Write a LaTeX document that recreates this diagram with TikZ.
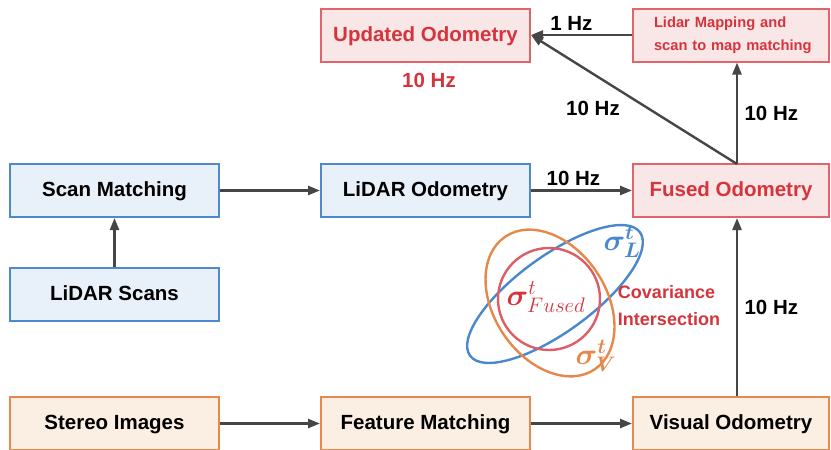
\RequirePackage{fix-cm}
\documentclass[tikz,border=0pt]{standalone}
\usepackage{amsmath,bm}
\usepackage{fontspec}
\setmainfont{Liberation Sans}
\usetikzlibrary{arrows.meta}
\definecolor{bbord}{RGB}{80,136,204}
\definecolor{bfill}{RGB}{232,240,250}
\definecolor{rbord}{RGB}{224,100,106}
\definecolor{rfill}{RGB}{249,230,230}
\definecolor{rtext}{RGB}{214,52,60}
\definecolor{obord}{RGB}{232,136,76}
\definecolor{ofill}{RGB}{251,238,227}
\definecolor{arr}{RGB}{70,70,70}
\definecolor{eblue}{RGB}{74,136,206}
\definecolor{eorange}{RGB}{230,136,74}
\definecolor{ered}{RGB}{222,94,104}
\begin{document}
\begin{tikzpicture}[x=1pt,y=-1pt,
  base/.style={draw,line width=2pt,inner sep=0pt,text height=15pt,text depth=3pt,font=\fontsize{20.5}{24}\selectfont\bfseries},
  bluebox/.style={base,draw=bbord,fill=bfill,minimum width=209pt,minimum height=53pt},
  redbox/.style={base,draw=rbord,fill=rfill,text=rtext,minimum height=53pt},
  orangebox/.style={base,draw=obord,fill=ofill,minimum height=53pt},
  conn/.style={draw=arr,line width=2.4pt,-{Triangle[length=12pt,width=9pt]}},
  hz/.style={font=\fontsize{20.5}{24}\selectfont\bfseries},
  sig/.style={font=\fontsize{30}{32}\selectfont},
]
\useasboundingbox (0,0) rectangle (831,450);
% boxes
\node[redbox,minimum width=209pt] (upd) at (425.5,35) {Updated Odometry};
\node[draw=rbord,fill=rfill,text=rtext,line width=2pt,inner sep=0pt,minimum width=196pt,minimum height=53pt,align=left,text width=176pt,font=\fontsize{14.7}{23}\selectfont\bfseries] (lmap) at (731,35) {\hspace*{11pt}Lidar Mapping and\\\hspace*{11pt}scan to map matching};
\node[bluebox] (scm) at (114.5,190.5) {Scan Matching};
\node[bluebox] (lodo) at (425.5,190.5) {LiDAR Odometry};
\node[redbox,minimum width=196pt] (fused) at (731,190.5) {Fused Odometry};
\node[bluebox] (lscans) at (114.5,294) {LiDAR Scans};
\node[orangebox,minimum width=209pt] (stereo) at (114.5,423.5) {Stereo Images};
\node[orangebox,minimum width=209pt] (feat) at (425.5,423.5) {Feature Matching};
\node[orangebox,minimum width=196pt] (vodo) at (731,423.5) {Visual Odometry};
% labels
\node[hz,text=rtext] (l10red) at (429,80) {10 Hz};
% connectors
\coordinate (ftop) at (737,164);
\draw[conn] (lscans.north) -- (scm.south);
\draw[conn] (scm.east) -- (lodo.west);
\draw[conn] (lodo.east) -- node[hz,above=0pt,pos=0.42] (l1) {10 Hz} (fused.west);
\draw[conn] (stereo.east) -- (feat.west);
\draw[conn] (feat.east) -- (vodo.west);
\draw[conn] (vodo.north -| ftop) -- node[hz,right=3pt] (l2) {10 Hz} (fused.south -| ftop);
\draw[conn] (ftop) -- node[hz,right=3pt] (l3) {10 Hz} (lmap.south -| ftop);
\draw[conn] (ftop) -- (upd.east);
\node[hz] (l4) at (593,108) {10 Hz};
\draw[conn] (lmap.west) -- node[hz,above=0pt,pos=0.6] (l5) {1 Hz} (upd.east);
% covariance ellipses
\draw[eblue,line width=2.4pt,rotate around={36:(555,294)}] (555,294) ellipse[x radius=105,y radius=38];
\draw[eorange,line width=2.4pt,rotate around={-56:(550,303)}] (550,303) ellipse[x radius=80,y radius=56];
\draw[ered,line width=2.4pt] (549,299) circle[radius=51];
\node[text=eblue,sig] (sl) at (622,242) {$\boldsymbol{\sigma}^{\boldsymbol{t}}_{\boldsymbol{L}}$};
\node[text=rtext,sig] (sf) at (546,297) {$\boldsymbol{\sigma}^{t}_{Fused}$};
\node[text=eorange,sig] (sv) at (596,356) {$\boldsymbol{\sigma}^{\boldsymbol{t}}_{\boldsymbol{V}}$};
\node[text=rtext,font=\fontsize{18}{27}\selectfont\bfseries,align=left] (ci) at (669,306) {Covariance\\Intersection};
\end{tikzpicture}
\end{document}
